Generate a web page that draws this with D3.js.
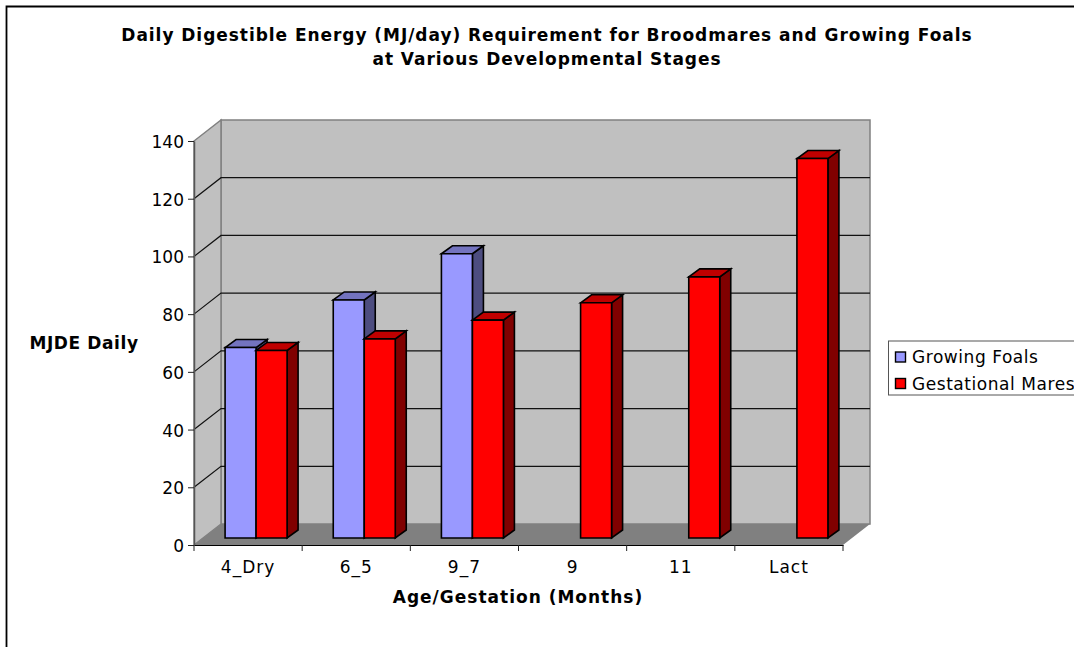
<!DOCTYPE html>
<html>
<head>
<meta charset="utf-8">
<script src="https://cdn.jsdelivr.net/npm/d3@7"></script>
<style>
body { margin: 0; background: #fff; }
svg { display: block; }
text { font-family: "DejaVu Sans", sans-serif; fill: #000; }
</style>
</head>
<body>
<svg id="vis"></svg>
<script>
const WIDTH = 1074;
const HEIGHT = 647;

const categories = ["4_Dry", "6_5", "9_7", "9", "11", "Lact"];
const seriesNames = ["Growing Foals", "Gestational Mares"];
const growingFoals = [66, 82.5, 98.5, null, null, null];
const gestationalMares = [65, 69, 75.5, 81.5, 90.5, 131.5];
const yTicks = [0, 20, 40, 60, 80, 100, 120, 140];

const frontColors = ["#9999ff", "#ff0000"];
const topColors = ["#7373bf", "#bf0000"];
const sideColors = ["#4d4d80", "#800000"];

// how far the back wall sits from the front axes
const DEPTH_X = 27;
const DEPTH_Y = 21;
// the bars stand part way into the floor
const BAR_X = 8;
const BAR_Y = 7;
const BAR_DX = 11;
const BAR_DY = 8;

const xScale = d3.scaleBand().domain(categories).range([194, 843]);
const yScale = d3.scaleLinear().domain([0, 140]).range([545, 141]);

const svg = d3.select("#vis").attr("width", WIDTH).attr("height", HEIGHT);

// outer frame, only top and left show inside the picture
svg.append("path")
    .attr("d", "M6.5,647V6.5H1074")
    .attr("fill", "none")
    .attr("stroke", "#000")
    .attr("stroke-width", 1.8);

const y0 = yScale(0), yTop = yScale(140);
const x0 = xScale.range()[0], x1 = xScale.range()[1];

function poly(points, fill, stroke, width) {
    svg.append("path")
        .attr("d", d3.line()(points) + "Z")
        .attr("fill", fill)
        .attr("stroke", stroke || "none")
        .attr("stroke-width", width || 1);
}

// back wall, side wall and floor
poly([[x0 + DEPTH_X, yTop - DEPTH_Y], [x1 + DEPTH_X, yTop - DEPTH_Y], [x1 + DEPTH_X, y0 - DEPTH_Y], [x0 + DEPTH_X, y0 - DEPTH_Y]], "#c0c0c0", "#808080", 1.5);
poly([[x0, y0], [x0 + DEPTH_X, y0 - DEPTH_Y], [x0 + DEPTH_X, yTop - DEPTH_Y], [x0, yTop]], "#c0c0c0", "#808080", 1.5);

// gridlines
yTicks.slice(1, -1).forEach(function(t) {
    svg.append("path")
        .attr("d", d3.line()([[x0, yScale(t)], [x0 + DEPTH_X, yScale(t) - DEPTH_Y], [x1 + DEPTH_X, yScale(t) - DEPTH_Y]]))
        .attr("fill", "none")
        .attr("stroke", "#111")
        .attr("stroke-width", 1.2);
});

poly([[x0, y0], [x0 + DEPTH_X, y0 - DEPTH_Y], [x1 + DEPTH_X, y0 - DEPTH_Y], [x1, y0]], "#808080");

// bars, foals first so the mares overlap them
const barWidth = 31;
categories.forEach(function(c, i) {
    [growingFoals[i], gestationalMares[i]].forEach(function(v, s) {
        if (v === null) return;
        const left = xScale(c) + xScale.bandwidth() / 2 + BAR_X - barWidth + s * barWidth;
        const right = left + barWidth;
        const top = yScale(v) - BAR_Y;
        const bottom = yScale(0) - BAR_Y;
        poly([[right, top], [right + BAR_DX, top - BAR_DY], [right + BAR_DX, bottom - BAR_DY], [right, bottom]], sideColors[s], "#000", 1.6);
        poly([[left, top], [left + BAR_DX, top - BAR_DY], [right + BAR_DX, top - BAR_DY], [right, top]], topColors[s], "#000", 1.6);
        poly([[left, top], [right, top], [right, bottom], [left, bottom]], frontColors[s], "#000", 1.6);
    });
});

// axes
const yAxis = svg.append("g")
    .attr("transform", "translate(" + x0 + ",0)")
    .call(d3.axisLeft(yScale).tickValues(yTicks).tickSize(6).tickPadding(4).tickSizeOuter(0));
yAxis.select(".domain").attr("stroke", "#555").attr("stroke-width", 1.5);
yAxis.selectAll("line").attr("stroke", "#222");
yAxis.selectAll("text").attr("font-size", 17).attr("font-family", "DejaVu Sans").attr("dy", "0.38em");

const xAxis = svg.append("g")
    .attr("transform", "translate(0," + y0 + ")")
    .call(d3.axisBottom(xScale).tickSize(0).tickPadding(16));
xAxis.select(".domain").attr("stroke", "#000").attr("stroke-width", 1.2);
xAxis.selectAll("text").attr("font-size", 17).attr("font-family", "DejaVu Sans").attr("letter-spacing", 1);

// ticks between the categories
categories.concat([null]).forEach(function(c, i) {
    const x = x0 + i * xScale.bandwidth();
    svg.append("line")
        .attr("x1", x).attr("x2", x)
        .attr("y1", y0).attr("y2", y0 + 6)
        .attr("stroke", "#222");
});

// titles
const titleLines = ["Daily Digestible Energy (MJ/day) Requirement for Broodmares and Growing Foals", "at Various Developmental Stages"];
titleLines.forEach(function(t, i) {
    svg.append("text")
        .attr("x", 547).attr("y", 41 + i * 24)
        .attr("text-anchor", "middle")
        .attr("font-size", 17)
        .attr("letter-spacing", 0.95)
        .attr("font-weight", "bold")
        .text(t);
});

svg.append("text")
    .attr("x", 84).attr("y", 349)
    .attr("text-anchor", "middle")
    .attr("font-size", 17)
    .attr("letter-spacing", 0.6)
    .attr("font-weight", "bold")
    .text("MJDE Daily");

svg.append("text")
    .attr("x", 518).attr("y", 603)
    .attr("text-anchor", "middle")
    .attr("font-size", 17)
    .attr("letter-spacing", 1)
    .attr("font-weight", "bold")
    .text("Age/Gestation (Months)");

// legend
svg.append("rect")
    .attr("x", 888.5).attr("y", 341)
    .attr("width", 200).attr("height", 54)
    .attr("fill", "#fff")
    .attr("stroke", "#555");

seriesNames.forEach(function(name, i) {
    svg.append("rect")
        .attr("x", 895.5).attr("y", 352 + i * 26.5)
        .attr("width", 10).attr("height", 10)
        .attr("fill", frontColors[i])
        .attr("stroke", "#000")
        .attr("stroke-width", 1.4);
    svg.append("text")
        .attr("x", 912).attr("y", 363 + i * 26.5)
        .attr("font-size", 17)
        .attr("letter-spacing", 0.55)
        .text(name);
});
</script>
</body>
</html>
